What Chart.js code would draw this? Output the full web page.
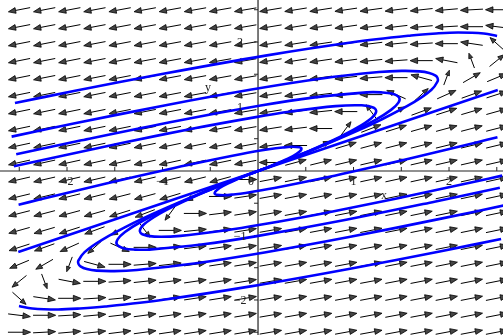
<!DOCTYPE html>
<html>
<head>
<meta charset="utf-8">
<script src="https://cdn.jsdelivr.net/npm/chart.js@4"></script>
<style>
  html, body { margin: 0; padding: 0; background: #fff; }
  canvas { display: block; }
</style>
</head>
<body>
<canvas id="phase" width="503" height="335"></canvas>
<script>
// sistema: x' = 3x - 4y , y' = x - y
const fieldX = [3, -4];
const fieldY = [1, -1];

// puntos de la malla de flechas (20 x 20)
const gridPts = [-2.5, -2.237, -1.974, -1.711, -1.447, -1.184, -0.921, -0.658, -0.395, -0.132,
                 0.132, 0.395, 0.658, 0.921, 1.184, 1.447, 1.711, 1.974, 2.237, 2.5];

const xTicks = [-2, -1, 0, 1, 2];
const yTicks = [-2, -1, 1, 2];
const minorTicks = [-2.5, -2, -1.5, -1, -0.5, 0.5, 1, 1.5, 2, 2.5];

// trayectorias
const curveU1 = [[2.503,2.093],[2.364,2.132],[2.094,2.147],[1.865,2.132],[1.602,2.101],[0.991,1.996],
                 [0.078,1.789],[-0.978,1.511],[-1.915,1.243],[-2.545,1.054]];
const curveU2 = [[0,0],[0.111,0.061],[0.194,0.107],[0.394,0.222],[0.649,0.374],[1.02,0.61],[1.286,0.793],
                 [1.633,1.067],[1.816,1.258],[1.881,1.391],[1.88,1.44],[1.859,1.479],[1.792,1.521],
                 [1.69,1.545],[1.504,1.552],[1.267,1.534],[0.668,1.434],[-0.083,1.259],[-0.953,1.024],
                 [-1.93,0.735],[-2.58,0.533]];
const curveU3 = [[0,0],[0.106,0.058],[0.37,0.21],[0.601,0.35],[0.924,0.562],[1.225,0.787],[1.393,0.947],
                 [1.47,1.06],[1.477,1.139],[1.4,1.2],[1.288,1.219],[1.138,1.219],[0.574,1.137],
                 [0.028,1.014],[-0.84,0.78],[-1.848,0.476],[-2.532,0.259]];
const curveU4 = [[0,0],[0.103,0.056],[0.352,0.201],[0.565,0.332],[0.852,0.526],[1.034,0.667],[1.187,0.819],
                 [1.237,0.919],[1.212,0.981],[1.086,1.018],[0.812,1.006],[0.344,0.922],[-0.038,0.831],
                 [-0.692,0.654],[-1.44,0.43],[-2.266,0.167],[-2.556,0.072]];
const curveU5 = [[0,0],[0.048,0.027],[0.137,0.079],[0.252,0.151],[0.365,0.232],[0.433,0.297],[0.455,0.343],
                 [0.434,0.367],[0.349,0.375],[0.259,0.364],[0.13,0.34],[-0.172,0.264],[-0.675,0.113],
                 [-0.96,0.02],[-1.589,-0.195],[-2.286,-0.443],[-2.507,-0.523]];
const curveE1 = [[0,0],[2.51,1.255]];

const curveL1 = [[-2.503,-2.093],[-2.364,-2.132],[-2.094,-2.147],[-1.865,-2.132],[-1.602,-2.101],[-0.991,-1.996],
                 [-0.078,-1.789],[0.978,-1.511],[1.915,-1.243],[2.545,-1.054]];
const curveL2 = [[0,0],[-0.111,-0.061],[-0.194,-0.107],[-0.394,-0.222],[-0.649,-0.374],[-1.02,-0.61],[-1.286,-0.793],
                 [-1.633,-1.067],[-1.816,-1.258],[-1.881,-1.391],[-1.88,-1.44],[-1.859,-1.479],[-1.792,-1.521],
                 [-1.69,-1.545],[-1.504,-1.552],[-1.267,-1.534],[-0.668,-1.434],[0.083,-1.259],[0.953,-1.024],
                 [1.93,-0.735],[2.58,-0.533]];
const curveL3 = [[0,0],[-0.106,-0.058],[-0.37,-0.21],[-0.601,-0.35],[-0.924,-0.562],[-1.225,-0.787],[-1.393,-0.947],
                 [-1.47,-1.06],[-1.477,-1.139],[-1.4,-1.2],[-1.288,-1.219],[-1.138,-1.219],[-0.574,-1.137],
                 [-0.028,-1.014],[0.84,-0.78],[1.848,-0.476],[2.532,-0.259]];
const curveL4 = [[0,0],[-0.103,-0.056],[-0.352,-0.201],[-0.565,-0.332],[-0.852,-0.526],[-1.034,-0.667],[-1.187,-0.819],
                 [-1.237,-0.919],[-1.212,-0.981],[-1.086,-1.018],[-0.812,-1.006],[-0.344,-0.922],[0.038,-0.831],
                 [0.692,-0.654],[1.44,-0.43],[2.266,-0.167],[2.556,-0.072]];
const curveL5 = [[0,0],[-0.048,-0.027],[-0.137,-0.079],[-0.252,-0.151],[-0.365,-0.232],[-0.433,-0.297],[-0.455,-0.343],
                 [-0.434,-0.367],[-0.349,-0.375],[-0.259,-0.364],[-0.13,-0.34],[0.172,-0.264],[0.675,-0.113],
                 [0.96,-0.02],[1.589,0.195],[2.286,0.443],[2.507,0.523]];
const curveE2 = [[0,0],[-2.51,-1.255]];

const curves = [curveU1, curveU2, curveU3, curveU4, curveU5, curveE1,
                curveL1, curveL2, curveL3, curveL4, curveL5, curveE2];

const ARROW_LEN = 0.237; // en unidades de datos

const fieldPlugin = {
    id: 'field',
    beforeDatasetsDraw(chart) {
        const { ctx, scales: { x, y } } = chart;
        ctx.save();
        for (const gx of gridPts) {
            for (const gy of gridPts) {
                const vx = fieldX[0] * gx + fieldX[1] * gy;
                const vy = fieldY[0] * gx + fieldY[1] * gy;
                const n = Math.hypot(vx, vy);
                if (!n) continue;
                const dx = vx / n * ARROW_LEN / 2;
                const dy = vy / n * ARROW_LEN / 2;
                const x0 = x.getPixelForValue(gx - dx), y0 = y.getPixelForValue(gy - dy);
                const x1 = x.getPixelForValue(gx + dx), y1 = y.getPixelForValue(gy + dy);
                const len = Math.hypot(x1 - x0, y1 - y0);
                const ux = (x1 - x0) / len, uy = (y1 - y0) / len;
                const hl = len * 0.33, hw = len * 0.13;
                const bx = x1 - ux * hl, by = y1 - uy * hl;
                ctx.strokeStyle = '#000';
                ctx.lineWidth = 1;
                ctx.beginPath();
                ctx.moveTo(x0, y0);
                ctx.lineTo(bx, by);
                ctx.stroke();
                ctx.beginPath();
                ctx.moveTo(x1, y1);
                ctx.lineTo(bx - uy * hw, by + ux * hw);
                ctx.lineTo(bx + uy * hw, by - ux * hw);
                ctx.closePath();
                ctx.fillStyle = '#444';
                ctx.fill();
                ctx.lineWidth = 0.8;
                ctx.stroke();
            }
        }
        // ejes
        const ox = x.getPixelForValue(0), oy = y.getPixelForValue(0);
        ctx.strokeStyle = '#222';
        ctx.lineWidth = 1.2;
        ctx.beginPath();
        ctx.moveTo(0, oy); ctx.lineTo(chart.width, oy);
        ctx.moveTo(ox, 0); ctx.lineTo(ox, chart.height);
        ctx.stroke();
        ctx.lineWidth = 1;
        ctx.beginPath();
        for (const t of minorTicks) {
            const px = x.getPixelForValue(t);
            ctx.moveTo(px, oy); ctx.lineTo(px, oy - 4);
            const py = y.getPixelForValue(t);
            ctx.moveTo(ox, py); ctx.lineTo(ox - 4, py);
        }
        ctx.stroke();
        ctx.restore();
    },
    afterDatasetsDraw(chart) {
        const { ctx, scales: { x, y } } = chart;
        const ox = x.getPixelForValue(0), oy = y.getPixelForValue(0);
        ctx.save();
        ctx.fillStyle = '#222';
        ctx.font = '12px "Liberation Serif"';
        ctx.textAlign = 'center';
        ctx.textBaseline = 'middle';
        for (const t of xTicks) {
            const lbl = t < 0 ? '\u2212' + (-t) : String(t);
            const px = t === 0 ? ox - 7 : x.getPixelForValue(t);
            ctx.fillText(lbl, px, oy + 11);
        }
        for (const t of yTicks) {
            const lbl = t < 0 ? '\u2212' + (-t) : String(t);
            ctx.fillText(lbl, ox - 18, y.getPixelForValue(t) + 1);
        }
        ctx.fillText('x', 384, 196);
        ctx.fillText('y', 208, 88);
        ctx.restore();
    }
};

new Chart(document.getElementById('phase'), {
    type: 'scatter',
    data: {
        datasets: curves.map(c => ({
            data: c.map(p => ({ x: p[0], y: p[1] })),
            showLine: true,
            borderColor: '#0000ff',
            borderWidth: 2.6,
            pointRadius: 0,
            tension: 0.35,
            fill: false
        }))
    },
    options: {
        responsive: false,
        animation: false,
        events: [],
        layout: { padding: 0 },
        plugins: { legend: { display: false }, tooltip: { enabled: false } },
        scales: {
            x: { type: 'linear', min: -2.7016, max: 2.565, display: false },
            y: { type: 'linear', min: -2.543, max: 2.651, display: false }
        }
    },
    plugins: [fieldPlugin]
});
</script>
</body>
</html>
